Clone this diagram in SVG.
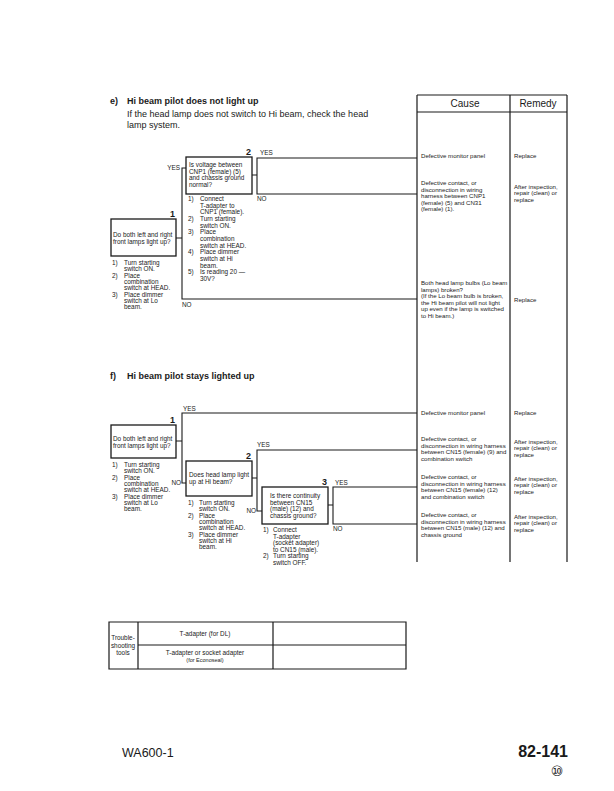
<svg xmlns="http://www.w3.org/2000/svg" width="614" height="791" viewBox="0 0 614 791">
<style>
text{font-family:"Liberation Sans",Arial,sans-serif;fill:#1a1a1a}
.s{font-size:6.4px}
.t{font-size:6.1px}
.h{font-size:9px;font-weight:bold}
.p{font-size:9px}
.num{font-size:9px;font-weight:bold}
.hd{font-size:10px}
.box{fill:none;stroke:#1a1a1a;stroke-width:1.3}
.ln{fill:none;stroke:#1a1a1a;stroke-width:1.1}
.tb{fill:none;stroke:#1a1a1a;stroke-width:1.2}
</style>
<rect width="614" height="791" fill="#fff"/>

<g id="header-e">
<text class="h" x="110" y="104">e)</text>
<text class="h" x="127" y="104">Hi beam pilot does not light up</text>
<text class="p" x="127" y="117">If the head lamp does not switch to Hi beam, check the head</text>
<text class="p" x="127" y="128">lamp system.</text>
</g>

<g id="header-f">
<text class="h" x="110" y="379">f)</text>
<text class="h" x="127" y="379">Hi beam pilot stays lighted up</text>
</g>

<g id="cause-table">
<path class="tb" d="M417,95 H567 M417,112 H567 M417,95 V562 M510,95 V562 M567,95 V562"/>
<text class="hd" x="465" y="107" text-anchor="middle">Cause</text>
<text class="hd" x="538" y="107" text-anchor="middle">Remedy</text>
</g>

<g id="cause-e1">
<text class="t" x="421" y="158">Defective monitor panel</text>
<text class="t" x="514" y="158">Replace</text>
</g>
<g id="cause-e2">
<text class="t" x="421" y="185"><tspan x="421">Defective contact, or</tspan><tspan x="421" dy="6.5">disconnection in wiring</tspan><tspan x="421" dy="6.5">harness between CNP1</tspan><tspan x="421" dy="6.5">(female) (5) and CN31</tspan><tspan x="421" dy="6.5">(female) (1).</tspan></text>
<text class="t" x="514" y="189"><tspan x="514">After inspection,</tspan><tspan x="514" dy="6.3">repair (clean) or</tspan><tspan x="514" dy="6.3">replace</tspan></text>
</g>
<g id="cause-e3">
<text class="t" x="421" y="285"><tspan x="421">Both head lamp bulbs (Lo beam</tspan><tspan x="421" dy="6.5">lamps) broken?</tspan><tspan x="421" dy="6.5">(If the Lo beam bulb is broken,</tspan><tspan x="421" dy="6.5">the Hi beam pilot will not light</tspan><tspan x="421" dy="6.5">up even if the lamp is switched</tspan><tspan x="421" dy="6.5">to Hi beam.)</tspan></text>
<text class="t" x="514" y="302">Replace</text>
</g>

<g id="cause-f1">
<text class="t" x="421" y="415">Defective monitor panel</text>
<text class="t" x="514" y="415">Replace</text>
</g>
<g id="cause-f2">
<text class="t" x="421" y="441"><tspan x="421">Defective contact, or</tspan><tspan x="421" dy="6.5">disconnection in wiring harness</tspan><tspan x="421" dy="6.5">between CN15 (female) (9) and</tspan><tspan x="421" dy="6.5">combination switch</tspan></text>
<text class="t" x="514" y="444"><tspan x="514">After inspection,</tspan><tspan x="514" dy="6.3">repair (clean) or</tspan><tspan x="514" dy="6.3">replace</tspan></text>
</g>
<g id="cause-f3">
<text class="t" x="421" y="479"><tspan x="421">Defective contact, or</tspan><tspan x="421" dy="6.5">disconnection in wiring harness</tspan><tspan x="421" dy="6.5">between CN15 (female) (12)</tspan><tspan x="421" dy="6.5">and combination switch</tspan></text>
<text class="t" x="514" y="481"><tspan x="514">After inspection,</tspan><tspan x="514" dy="6.3">repair (clean) or</tspan><tspan x="514" dy="6.3">replace</tspan></text>
</g>
<g id="cause-f4">
<text class="t" x="421" y="517"><tspan x="421">Defective contact, or</tspan><tspan x="421" dy="6.5">disconnection in wiring harness</tspan><tspan x="421" dy="6.5">between CN15 (male) (12) and</tspan><tspan x="421" dy="6.5">chassis ground</tspan></text>
<text class="t" x="514" y="519"><tspan x="514">After inspection,</tspan><tspan x="514" dy="6.3">repair (clean) or</tspan><tspan x="514" dy="6.3">replace</tspan></text>
</g>

<g id="connectors">
<path class="ln" d="M176,238 H182 M186,168 H182 V299 H417"/>
<path class="ln" d="M252,175 H257 M417,158 H257 V194 H417"/>
<path class="ln" d="M176,441 H182 M417,413 H182 V483 H186"/>
<path class="ln" d="M252,478 H257 M417,450 H257 V511 H262"/>
<path class="ln" d="M328,505 H333 M417,487 H333 V524 H417"/>
<text class="s" x="180" y="170" text-anchor="end">YES</text>
<text class="s" x="182" y="307">NO</text>
<text class="s" x="260" y="155">YES</text>
<text class="s" x="257" y="201">NO</text>
<text class="s" x="183" y="411">YES</text>
<text class="s" x="181" y="485" text-anchor="end">NO</text>
<text class="s" x="257" y="447">YES</text>
<text class="s" x="256" y="513" text-anchor="end">NO</text>
<text class="s" x="335" y="485">YES</text>
<text class="s" x="333" y="531">NO</text>
</g>

<g id="e-node1">
<rect class="box" x="111" y="219" width="65" height="37"/>
<text class="num" x="175" y="217" text-anchor="end">1</text>
<text class="s" x="113" y="237"><tspan x="113">Do both left and right</tspan><tspan x="113" dy="7">front lamps light up?</tspan></text>
<text class="s" x="112" y="265"><tspan x="112">1)</tspan><tspan x="124">Turn starting</tspan><tspan x="124" dy="6.3">switch ON.</tspan><tspan x="112" dy="6.3">2)</tspan><tspan x="124">Place</tspan><tspan x="124" dy="6.3">combination</tspan><tspan x="124" dy="6.3">switch at HEAD.</tspan><tspan x="112" dy="6.3">3)</tspan><tspan x="124">Place dimmer</tspan><tspan x="124" dy="6.3">switch at Lo</tspan><tspan x="124" dy="6.3">beam.</tspan></text>
</g>

<g id="e-node2">
<rect class="box" x="186" y="157" width="66" height="37"/>
<text class="num" x="251" y="155" text-anchor="end">2</text>
<text class="s" x="189" y="167"><tspan x="189">Is voltage between</tspan><tspan x="189" dy="6.6">CNP1 (female) (5)</tspan><tspan x="189" dy="6.6">and chassis ground</tspan><tspan x="189" dy="6.6">normal?</tspan></text>
<text class="s" x="188" y="201"><tspan x="188">1)</tspan><tspan x="200">Connect</tspan><tspan x="200" dy="6.67">T-adapter to</tspan><tspan x="200" dy="6.67">CNP1 (female).</tspan><tspan x="188" dy="6.67">2)</tspan><tspan x="200">Turn starting</tspan><tspan x="200" dy="6.67">switch ON.</tspan><tspan x="188" dy="6.67">3)</tspan><tspan x="200">Place</tspan><tspan x="200" dy="6.67">combination</tspan><tspan x="200" dy="6.67">switch at HEAD.</tspan><tspan x="188" dy="6.67">4)</tspan><tspan x="200">Place dimmer</tspan><tspan x="200" dy="6.67">switch at Hi</tspan><tspan x="200" dy="6.67">beam.</tspan><tspan x="188" dy="6.67">5)</tspan><tspan x="200">Is reading 20 —</tspan><tspan x="200" dy="6.67">30V?</tspan></text>
</g>

<g id="f-node1">
<rect class="box" x="111" y="425" width="65" height="33"/>
<text class="num" x="175" y="423" text-anchor="end">1</text>
<text class="s" x="113" y="441"><tspan x="113">Do both left and right</tspan><tspan x="113" dy="7">front lamps light up?</tspan></text>
<text class="s" x="112" y="467"><tspan x="112">1)</tspan><tspan x="124">Turn starting</tspan><tspan x="124" dy="6.3">switch ON.</tspan><tspan x="112" dy="6.3">2)</tspan><tspan x="124">Place</tspan><tspan x="124" dy="6.3">combination</tspan><tspan x="124" dy="6.3">switch at HEAD.</tspan><tspan x="112" dy="6.3">3)</tspan><tspan x="124">Place dimmer</tspan><tspan x="124" dy="6.3">switch at Lo</tspan><tspan x="124" dy="6.3">beam.</tspan></text>
</g>

<g id="f-node2">
<rect class="box" x="186" y="461" width="66" height="35"/>
<text class="num" x="251" y="459" text-anchor="end">2</text>
<text class="s" x="189" y="477"><tspan x="189">Does head lamp light</tspan><tspan x="189" dy="7">up at Hi beam?</tspan></text>
<text class="s" x="188" y="505"><tspan x="188">1)</tspan><tspan x="199">Turn starting</tspan><tspan x="199" dy="6.3">switch ON.</tspan><tspan x="188" dy="6.3">2)</tspan><tspan x="199">Place</tspan><tspan x="199" dy="6.3">combination</tspan><tspan x="199" dy="6.3">switch at HEAD.</tspan><tspan x="188" dy="6.3">3)</tspan><tspan x="199">Place dimmer</tspan><tspan x="199" dy="6.3">switch at Hi</tspan><tspan x="199" dy="6.3">beam.</tspan></text>
</g>

<g id="f-node3">
<rect class="box" x="262" y="487" width="66" height="37"/>
<text class="num" x="327" y="485" text-anchor="end">3</text>
<text class="s" x="270" y="498"><tspan x="270">Is there continuity</tspan><tspan x="270" dy="6.6">between CN15</tspan><tspan x="270" dy="6.6">(male) (12) and</tspan><tspan x="270" dy="6.6">chassis ground?</tspan></text>
<text class="s" x="263" y="532"><tspan x="263">1)</tspan><tspan x="273">Connect</tspan><tspan x="273" dy="6.5">T-adapter</tspan><tspan x="273" dy="6.5">(socket adapter)</tspan><tspan x="273" dy="6.5">to CN15 (male).</tspan><tspan x="263" dy="6.5">2)</tspan><tspan x="273">Turn starting</tspan><tspan x="273" dy="6.5">switch OFF.</tspan></text>
</g>

<g id="tools-table">
<path class="tb" d="M109,622 H406 V669 H109 Z M138,622 V669 M273,622 V669 M138,645 H406"/>
<text class="s" x="123" y="640" text-anchor="middle"><tspan x="123">Trouble-</tspan><tspan x="123" dy="7.5">shooting</tspan><tspan x="123" dy="7.5">tools</tspan></text>
<text class="s" x="205" y="636" text-anchor="middle">T-adapter (for DL)</text>
<text class="s" x="205" y="655" text-anchor="middle">T-adapter or socket adapter</text>
<text class="s" x="205" y="662" text-anchor="middle" style="font-size:5.5px">(for Econoseal)</text>
</g>

<g id="footer">
<text x="122" y="757" style="font-size:12.5px">WA600-1</text>
<text x="568" y="757" text-anchor="end" style="font-size:16px;font-weight:bold">82-141</text>
<text x="557" y="776" text-anchor="middle" style="font-family:'DejaVu Sans','Noto Sans CJK JP',sans-serif;font-size:14px">⑩</text>
</g>
</svg>
